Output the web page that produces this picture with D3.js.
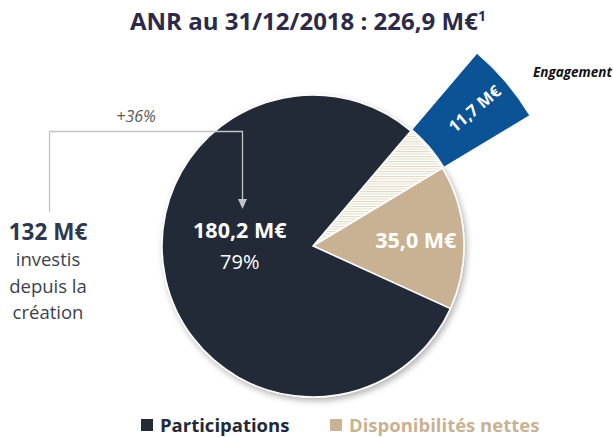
<!DOCTYPE html>
<html>
<head>
<meta charset="utf-8">
<script src="https://cdn.jsdelivr.net/npm/d3@7"></script>
<style>
  body { margin: 0; background: #fff; }
  text { font-family: "Open Sans", sans-serif; }
</style>
</head>
<body>
<div id="chart"></div>
<script>
const categories = ['Engagement', 'Disponibilités nettes', 'Participations'];
const values = [11.7, 35.0, 180.2];
const valueLabels = ['11,7 M€', '35,0 M€', '180,2 M€'];
const shareLabel = '79%';
const legendItems = ['Participations', 'Disponibilités nettes'];
const investedLabel = '132 M€';
const investedLines = ['investis', 'depuis la', 'création'];
const growthLabel = '+36%';

const width = 613, height = 437;
const cx = 313, cy = 246, r = 151;
const colors = { 'Participations': '#222a37', 'Disponibilités nettes': '#c9b193', 'Engagement': '#0b5394' };

const svg = d3.select('#chart').append('svg')
  .attr('width', width)
  .attr('height', height);

const defs = svg.append('defs');
const pat = defs.append('pattern')
  .attr('id', 'hatch')
  .attr('patternUnits', 'userSpaceOnUse')
  .attr('width', 4).attr('height', 2.5);
pat.append('rect').attr('width', 4).attr('height', 2.5).attr('fill', '#fff');
pat.append('rect').attr('y', 0).attr('width', 4).attr('height', 1).attr('fill', '#e2d8c2');

const shadow = defs.append('filter').attr('id', 'shadow')
  .attr('x', '-20%').attr('y', '-20%').attr('width', '140%').attr('height', '140%');
shadow.append('feDropShadow')
  .attr('dx', 2).attr('dy', 3).attr('stdDeviation', 3)
  .attr('flood-color', '#000').attr('flood-opacity', 0.3);

// title
const title = svg.append('text')
  .attr('x', 308).attr('y', 30)
  .attr('text-anchor', 'middle')
  .attr('font-size', 24).attr('font-weight', 700)
  .attr('fill', '#2c2a4a')
  .text('ANR au 31/12/2018 : 226,9 M€');
title.append('tspan').attr('dy', -9).attr('font-size', 14).text('1');

const start = 40.4 * Math.PI / 180;
const pie = d3.pie().sort(null).value(d => d)
  .startAngle(start).endAngle(start + 2 * Math.PI);
const arcs = pie(values);

const arc = d3.arc().innerRadius(0).outerRadius(r);
const outerArc = d3.arc().innerRadius(r + 2).outerRadius(253);

const g = svg.append('g').attr('transform', `translate(${cx},${cy})`);

g.append('g').attr('filter', 'url(#shadow)')
  .selectAll('path')
  .data(arcs)
  .join('path')
  .attr('d', arc)
  .attr('fill', (d, i) => i === 0 ? 'url(#hatch)' : colors[categories[i]])
  .attr('stroke', '#fff')
  .attr('stroke-width', 1.5);

// detached engagement piece
g.append('path')
  .attr('d', outerArc(arcs[0]))
  .attr('fill', colors['Engagement'])
  .attr('stroke', '#fff')
  .attr('stroke-width', 1);

// labels
const eMid = (arcs[0].startAngle + arcs[0].endAngle) / 2;
const eLab = d3.arc().innerRadius(212).outerRadius(212).centroid(arcs[0]);
g.append('text')
  .attr('transform', `translate(${eLab[0]},${eLab[1]}) rotate(${eMid * 180 / Math.PI - 90})`)
  .attr('text-anchor', 'middle').attr('dy', '0.35em')
  .attr('font-size', 16.5).attr('font-weight', 700).attr('fill', '#fff')
  .text(valueLabels[0]);

const dLab = d3.arc().innerRadius(103).outerRadius(103).centroid(arcs[1]);
g.append('text')
  .attr('x', dLab[0]).attr('y', dLab[1])
  .attr('text-anchor', 'middle').attr('dy', '0.35em')
  .attr('font-size', 21.5).attr('font-weight', 700).attr('fill', '#fff')
  .text(valueLabels[1]);

const pLab = d3.arc().innerRadius(75).outerRadius(75).centroid(arcs[2]);
g.append('text')
  .attr('x', pLab[0]).attr('y', pLab[1] - 24)
  .attr('text-anchor', 'middle')
  .attr('font-size', 21.5).attr('font-weight', 700).attr('fill', '#fff')
  .text(valueLabels[2]);
g.append('text')
  .attr('x', pLab[0]).attr('y', pLab[1] + 7)
  .attr('text-anchor', 'middle')
  .attr('font-size', 20).attr('fill', '#fff')
  .text(shareLabel);

svg.append('text')
  .attr('x', 612).attr('y', 77)
  .attr('text-anchor', 'end')
  .attr('font-size', 13.5).attr('font-weight', 700).attr('font-style', 'italic')
  .attr('fill', '#111')
  .text(categories[0]);

// connector from invested to participations
svg.append('path')
  .attr('d', 'M49.5,212 V131.5 H242.5 V200')
  .attr('fill', 'none')
  .attr('stroke', '#c4c4c4')
  .attr('stroke-width', 1.3);
svg.append('path')
  .attr('d', 'M238,199 L247,199 L242.5,209 Z')
  .attr('fill', '#c4c4c4');

svg.append('text')
  .attr('x', 136).attr('y', 122)
  .attr('text-anchor', 'middle')
  .attr('font-size', 16).attr('font-style', 'italic')
  .attr('fill', '#595959')
  .text(growthLabel);

svg.append('text')
  .attr('x', 48).attr('y', 240)
  .attr('text-anchor', 'middle')
  .attr('font-size', 22.5).attr('font-weight', 700)
  .attr('fill', '#2f3650')
  .text(investedLabel);

svg.append('g').selectAll('text')
  .data(investedLines)
  .join('text')
  .attr('x', 48)
  .attr('y', (d, i) => 266 + i * 26.5)
  .attr('text-anchor', 'middle')
  .attr('font-size', 18.5)
  .attr('fill', '#3b3f50')
  .text(d => d);

// legend
const legendX = [141, 330];
const legend = svg.append('g').selectAll('g')
  .data(legendItems)
  .join('g')
  .attr('transform', (d, i) => `translate(${legendX[i]},419)`);
legend.append('rect')
  .attr('width', 12).attr('height', 12)
  .attr('fill', d => colors[d]);
legend.append('text')
  .attr('x', 19).attr('y', 12.5)
  .attr('font-size', 18.5).attr('font-weight', 700)
  .attr('fill', d => colors[d])
  .text(d => d);
</script>
</body>
</html>
